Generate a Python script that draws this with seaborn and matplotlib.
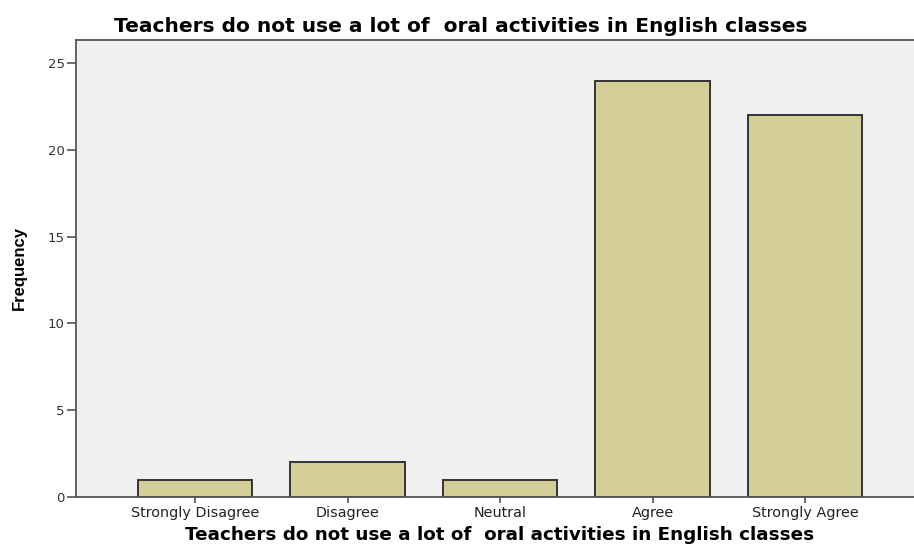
import pandas as pd
import matplotlib
matplotlib.use("Agg")
import matplotlib.pyplot as plt
import seaborn as sns

# data
categories = ["Strongly Disagree", "Disagree", "Neutral", "Agree", "Strongly Agree"]
frequency = [1, 2, 1, 24, 22]
y_ticks = [0, 5, 10, 15, 20, 25]
title_text = "Teachers do not use a lot of  oral activities in English classes"

sns.set_style("white")
plt.rcParams['font.family'] = ['DejaVu Sans']

df = pd.DataFrame({"Response": categories, "Frequency": frequency})

fig = plt.figure(figsize=(9.14, 5.47), dpi=100)
ax = fig.add_axes([0.0832, 0.0914, 0.9278, 0.8355])
ax.set_facecolor("#f0f0f0")

sns.barplot(data=df, x="Response", y="Frequency", order=categories,
            color="#d3ce97", saturation=1, width=0.75,
            edgecolor="#333333", linewidth=1.4, ax=ax)

ax.set_xlim(-0.78, 4.78)
ax.set_ylim(0, 26.34)
ax.set_yticks(y_ticks)

for s in ax.spines.values():
    s.set_color("#555555")
    s.set_linewidth(1.3)

ax.tick_params(axis="y", direction="out", length=6.5, width=1.1, color="#444444",
               labelsize=9.5, labelcolor="#333333", pad=1.5, left=True)
ax.tick_params(axis="x", direction="out", length=4.5, width=1.1, color="#444444",
               labelsize=10.4, labelcolor="#222222", pad=2, bottom=True)

ax.set_ylabel("Frequency", fontsize=12, fontweight="bold", labelpad=15,
              family="Liberation Sans", color="black")
ax.set_xlabel(title_text, fontsize=13.2, fontweight="bold", labelpad=4, color="black")
fig.text(0.504, 0.951, title_text, ha="center", va="center",
         fontsize=14.5, fontweight="bold", color="black")

fig.savefig("out.png", dpi=100)
plt.close()
